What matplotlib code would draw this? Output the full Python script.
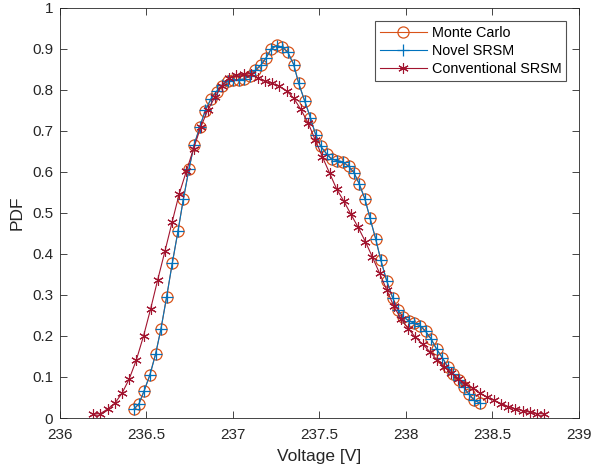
import matplotlib
matplotlib.use("Agg")
import matplotlib.pyplot as plt

plt.rcParams["font.family"] = ["Liberation Sans", "DejaVu Sans"]

# Monte Carlo reference PDF
mc_voltage = [
    236.428, 236.457, 236.487, 236.520, 236.553, 236.584, 236.616, 236.649, 236.682, 236.713,
    236.746, 236.775, 236.809, 236.840, 236.873, 236.905, 236.936, 236.969, 237.002, 237.035,
    237.065, 237.098, 237.129, 237.160, 237.191, 237.221, 237.253, 237.285, 237.316, 237.351,
    237.380, 237.414, 237.447, 237.478, 237.507, 237.542, 237.570, 237.603, 237.636, 237.669,
    237.699, 237.730, 237.763, 237.792, 237.825, 237.855, 237.888, 237.923, 237.954, 237.984,
    238.017, 238.048, 238.081, 238.114, 238.146, 238.177, 238.210, 238.241, 238.273, 238.304,
    238.333, 238.362, 238.393, 238.428,
]
mc_pdf = [
    0.022, 0.035, 0.067, 0.106, 0.157, 0.218, 0.294, 0.377, 0.455, 0.533,
    0.607, 0.665, 0.710, 0.749, 0.777, 0.795, 0.810, 0.820, 0.824, 0.824,
    0.826, 0.834, 0.847, 0.859, 0.877, 0.900, 0.908, 0.903, 0.892, 0.861,
    0.815, 0.773, 0.732, 0.690, 0.662, 0.643, 0.631, 0.627, 0.624, 0.613,
    0.598, 0.570, 0.533, 0.487, 0.436, 0.384, 0.335, 0.293, 0.263, 0.246,
    0.237, 0.231, 0.225, 0.211, 0.192, 0.168, 0.147, 0.125, 0.107, 0.093,
    0.076, 0.059, 0.044, 0.036,
]

# Novel SRSM (coincides with Monte Carlo)
novel_voltage = list(mc_voltage)
novel_pdf = [
    0.022, 0.035, 0.067, 0.105, 0.156, 0.218, 0.294, 0.377, 0.455, 0.533,
    0.607, 0.665, 0.710, 0.750, 0.778, 0.796, 0.811, 0.820, 0.824, 0.824,
    0.826, 0.834, 0.847, 0.859, 0.877, 0.899, 0.907, 0.903, 0.892, 0.861,
    0.815, 0.773, 0.732, 0.690, 0.662, 0.643, 0.631, 0.627, 0.624, 0.613,
    0.598, 0.570, 0.533, 0.487, 0.436, 0.384, 0.335, 0.293, 0.263, 0.246,
    0.237, 0.231, 0.225, 0.211, 0.192, 0.168, 0.147, 0.125, 0.107, 0.093,
    0.076, 0.059, 0.044, 0.036,
]

# Conventional SRSM
conv_voltage = [
    236.193, 236.234, 236.276, 236.317, 236.358, 236.400, 236.441, 236.483, 236.524, 236.565,
    236.607, 236.648, 236.689, 236.731, 236.772, 236.813, 236.855, 236.896, 236.937, 236.979,
    237.020, 237.061, 237.103, 237.144, 237.186, 237.227, 237.268, 237.310, 237.351, 237.392,
    237.434, 237.475, 237.516, 237.558, 237.599, 237.641, 237.682, 237.723, 237.765, 237.806,
    237.847, 237.889, 237.930, 237.971, 238.013, 238.054, 238.096, 238.137, 238.178, 238.220,
    238.261, 238.303, 238.344, 238.385, 238.427, 238.468, 238.509, 238.551, 238.592, 238.633,
    238.675, 238.716, 238.757, 238.799,
]
conv_pdf = [
    0.009, 0.011, 0.022, 0.036, 0.060, 0.095, 0.141, 0.200, 0.266, 0.337,
    0.407, 0.477, 0.546, 0.602, 0.656, 0.708, 0.751, 0.782, 0.810, 0.829,
    0.835, 0.837, 0.839, 0.828, 0.820, 0.815, 0.808, 0.797, 0.779, 0.752,
    0.719, 0.678, 0.637, 0.597, 0.558, 0.528, 0.496, 0.465, 0.430, 0.392,
    0.353, 0.312, 0.272, 0.242, 0.218, 0.197, 0.180, 0.162, 0.142, 0.125,
    0.110, 0.096, 0.084, 0.073, 0.061, 0.051, 0.043, 0.035, 0.028, 0.022,
    0.018, 0.014, 0.011, 0.010,
]

x_ticks = [236, 236.5, 237, 237.5, 238, 238.5, 239]
x_tick_labels = ["236", "236.5", "237", "237.5", "238", "238.5", "239"]
y_ticks = [0, 0.1, 0.2, 0.3, 0.4, 0.5, 0.6, 0.7, 0.8, 0.9, 1]
y_tick_labels = ["0", "0.1", "0.2", "0.3", "0.4", "0.5", "0.6", "0.7", "0.8", "0.9", "1"]

axis_gray = "#262626"

fig = plt.figure(figsize=(5.94, 4.70), dpi=100)
ax = fig.add_axes([0.101, 0.1106, 0.8737, 0.8734])

ax.plot(mc_voltage, mc_pdf, color="#D95319", linewidth=0.8, marker="o",
        markersize=8, markerfacecolor="none", markeredgewidth=0.9, label="Monte Carlo")
ax.plot(novel_voltage, novel_pdf, color="#0072BD", linewidth=0.8, marker="+",
        markersize=8, markeredgewidth=0.9, label="Novel SRSM")
ax.plot(conv_voltage, conv_pdf, color="#A2142F", linewidth=0.8, marker=(6, 2, 0),
        markersize=7.5, markeredgewidth=0.8, label="Conventional SRSM")

ax.set_xlim(236, 239)
ax.set_ylim(0, 1)
ax.set_xticks(x_ticks)
ax.set_xticklabels(x_tick_labels)
ax.set_yticks(y_ticks)
ax.set_yticklabels(y_tick_labels)
ax.tick_params(direction="in", top=True, right=True, length=5, width=0.6,
               colors=axis_gray, labelsize=11)
ax.tick_params(axis="x", pad=7)
ax.tick_params(axis="y", pad=5)
for spine in ax.spines.values():
    spine.set_color(axis_gray)
    spine.set_linewidth(0.6)

ax.set_xlabel("Voltage [V]", fontsize=12.5, color=axis_gray, labelpad=5)
ax.set_ylabel("PDF", fontsize=12.5, color=axis_gray, labelpad=5)

leg = ax.legend(loc="upper right", bbox_to_anchor=(0.9755, 0.968), fontsize=10.4,
                frameon=True, fancybox=False, borderpad=0.35, handlelength=3.2,
                handletextpad=0.35, labelspacing=0.3, borderaxespad=0)
leg.get_frame().set_edgecolor(axis_gray)
leg.get_frame().set_linewidth(0.8)
for t in leg.get_texts():
    t.set_color("black")

fig.savefig("out.png", dpi=100)
